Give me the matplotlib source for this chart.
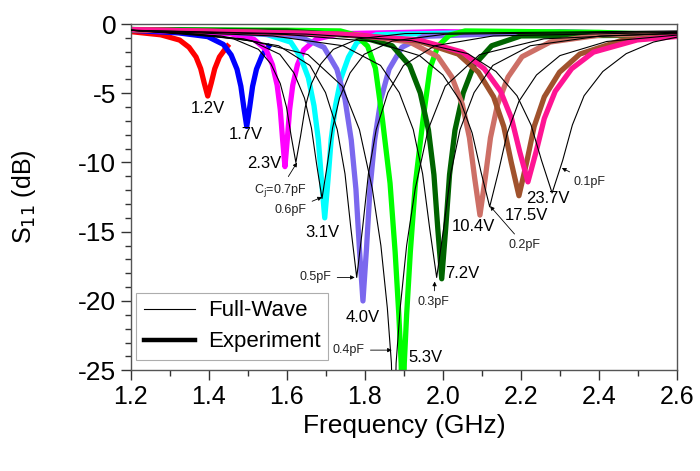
import matplotlib.pyplot as plt
from matplotlib.ticker import MultipleLocator
from matplotlib.lines import Line2D

plt.rcParams['font.family'] = ['Liberation Sans', 'DejaVu Sans']
plt.rcParams['axes.unicode_minus'] = False

# ---- Experiment (thick) : frequency in GHz, S11 in dB ----
f_1v2 = [1.2, 1.277, 1.325, 1.349, 1.367, 1.379, 1.388, 1.397, 1.406, 1.415, 1.427, 1.445, 1.452]
s_1v2 = [-0.55, -0.78, -1.16, -1.68, -2.38, -3.23, -4.26, -5.2, -4.26, -3.23, -2.38, -1.68, -1.45]

f_1v7 = [1.2, 1.322, 1.397, 1.437, 1.457, 1.472, 1.482, 1.4895, 1.497, 1.5045, 1.512, 1.522, 1.537, 1.557]
s_1v7 = [-0.45, -0.64, -0.91, -1.47, -2.23, -3.26, -4.5, -6.02, -7.4, -6.02, -4.5, -3.26, -2.23, -1.47]

f_2v3 = [1.2, 1.455, 1.515, 1.547, 1.563, 1.575, 1.583, 1.589, 1.595, 1.601, 1.607, 1.615, 1.627, 1.643, 1.675, 1.735, 2.0, 2.6]
s_2v3 = [-0.4, -0.7, -1.09, -1.87, -2.95, -4.42, -6.18, -8.34, -10.3, -8.34, -6.18, -4.42, -2.95, -1.87, -1.09, -0.7, -0.55, -0.8]

f_3v1 = [1.2, 1.45, 1.55, 1.61, 1.635, 1.655, 1.6695, 1.6805, 1.6888, 1.697, 1.7053, 1.7135, 1.7245, 1.739, 1.758, 1.78, 1.83, 2.2, 2.6]
s_3v1 = [-0.4, -0.5, -0.77, -1.31, -2.39, -3.88, -5.9, -8.33, -11.3, -14.0, -11.3, -8.33, -5.9, -3.88, -2.39, -1.31, -0.77, -0.55, -0.8]

f_4v0 = [1.2, 1.4, 1.63, 1.695, 1.728, 1.749, 1.765, 1.777, 1.786, 1.795, 1.804, 1.813, 1.825, 1.841, 1.862, 1.895, 1.95, 2.3, 2.6]
s_4v0 = [-0.4, -0.5, -0.89, -1.68, -3.26, -5.43, -8.38, -11.93, -16.26, -20.0, -16.26, -11.93, -8.38, -5.43, -3.26, -1.68, -0.89, -0.55, -0.8]

f_5v3 = [1.2, 1.6, 1.737, 1.777, 1.807, 1.827, 1.845, 1.8645, 1.8775, 1.887, 1.893, 1.897, 1.901, 1.907, 1.9165, 1.9295, 1.949, 1.967, 1.987, 2.017, 2.057, 2.4, 2.6]
s_5v3 = [-0.4, -0.45, -0.5, -0.8, -1.6, -3.2, -6.9, -11.5, -16.45, -21.0, -24.5, -30.0, -24.5, -21.0, -16.45, -11.5, -6.9, -3.2, -1.6, -0.8, -0.5, -0.6, -0.8]

f_7v2 = [1.2, 1.6, 1.78, 1.87, 1.915, 1.942, 1.963, 1.977, 1.987, 1.997, 2.007, 2.017, 2.031, 2.052, 2.079, 2.125, 2.2, 2.6]
s_7v2 = [-0.4, -0.5, -0.86, -1.57, -3.01, -4.98, -7.66, -10.88, -14.82, -18.4, -14.82, -10.88, -7.66, -4.98, -3.01, -1.57, -0.86, -0.8]

f_10v4 = [1.2, 1.78, 1.915, 1.987, 2.023, 2.05, 2.068, 2.0815, 2.095, 2.1085, 2.122, 2.14, 2.167, 2.203, 2.275, 2.41, 2.6]
s_10v4 = [-0.4, -0.77, -1.3, -2.36, -3.83, -5.82, -8.21, -11.14, -13.8, -11.14, -8.21, -5.82, -3.83, -2.36, -1.3, -0.77, -0.8]

f_17v5 = [1.2, 1.74, 1.935, 2.039, 2.091, 2.13, 2.156, 2.1755, 2.195, 2.2145, 2.234, 2.26, 2.299, 2.351, 2.455, 2.6]
s_17v5 = [-0.4, -0.74, -1.21, -2.17, -3.48, -5.26, -7.4, -10.02, -12.4, -10.02, -7.4, -5.26, -3.48, -2.17, -1.21, -0.85]

f_23v7 = [1.2, 1.728, 1.938, 2.05, 2.106, 2.148, 2.176, 2.197, 2.218, 2.239, 2.26, 2.288, 2.33, 2.386, 2.498, 2.6]
s_23v7 = [-0.4, -0.72, -1.15, -2.03, -3.23, -4.86, -6.82, -9.22, -11.4, -9.22, -6.82, -4.86, -3.23, -2.03, -1.15, -0.9]

# ---- Full-Wave (thin black) ----
f_07pF = [1.2, 1.343, 1.463, 1.527, 1.559, 1.583, 1.599, 1.611, 1.623, 1.635, 1.647, 1.663, 1.687, 1.719, 1.783, 1.903, 2.6]
s_07pF = [-0.45, -0.69, -1.07, -1.83, -2.88, -4.3, -6.01, -8.1, -10.0, -8.1, -6.01, -4.3, -2.88, -1.83, -1.07, -0.69, -0.5]

f_06pF = [1.2, 1.375, 1.51, 1.582, 1.618, 1.645, 1.663, 1.6765, 1.69, 1.7035, 1.717, 1.735, 1.762, 1.798, 1.87, 2.005, 2.6]
s_06pF = [-0.45, -0.74, -1.23, -2.19, -3.53, -5.34, -7.52, -10.18, -12.6, -10.18, -7.52, -5.34, -3.53, -2.19, -1.23, -0.74, -0.55]

f_05pF = [1.2, 1.429, 1.579, 1.659, 1.699, 1.729, 1.749, 1.764, 1.779, 1.794, 1.809, 1.829, 1.859, 1.899, 1.979, 2.129, 2.6]
s_05pF = [-0.45, -0.86, -1.57, -2.99, -4.95, -7.62, -10.82, -14.74, -18.3, -14.74, -10.82, -7.62, -4.95, -2.99, -1.57, -0.86, -0.6]

f_04pF = [1.2, 1.489, 1.654, 1.742, 1.786, 1.819, 1.841, 1.8575, 1.868, 1.874, 1.880, 1.8905, 1.907, 1.929, 1.962, 2.006, 2.094, 2.259, 2.6]
s_04pF = [-0.45, -1.07, -2.21, -4.49, -7.63, -11.9, -16.0, -20.5, -24.5, -32.0, -24.5, -20.5, -16.0, -11.9, -7.63, -4.49, -2.21, -1.07, -0.65]

f_03pF = [1.2, 1.564, 1.744, 1.84, 1.888, 1.924, 1.948, 1.966, 1.984, 2.002, 2.02, 2.044, 2.08, 2.128, 2.224, 2.404, 2.6]
s_03pF = [-0.45, -0.86, -1.57, -2.99, -4.95, -7.62, -10.82, -14.74, -18.3, -14.74, -10.82, -7.62, -4.95, -2.99, -1.57, -0.86, -0.7]

f_02pF = [1.2, 1.595, 1.82, 1.94, 2.0, 2.045, 2.075, 2.0975, 2.12, 2.1425, 2.165, 2.195, 2.24, 2.3, 2.42, 2.6]
s_02pF = [-0.45, -0.75, -1.26, -2.28, -3.68, -5.58, -7.87, -10.66, -13.2, -10.66, -7.87, -5.58, -3.68, -2.28, -1.26, -0.8]

f_01pF = [1.2, 1.65, 1.92, 2.064, 2.136, 2.19, 2.226, 2.253, 2.28, 2.307, 2.332, 2.362, 2.41, 2.47, 2.54, 2.6]
s_01pF = [-0.45, -0.73, -1.2, -2.14, -3.43, -5.18, -7.29, -9.86, -12.2, -9.86, -7.29, -5.18, -3.43, -2.14, -1.3, -0.95]

experiment = [
    (f_1v2, s_1v2, '#FF0000'),
    (f_1v7, s_1v7, '#0000FF'),
    (f_2v3, s_2v3, '#FF00FF'),
    (f_3v1, s_3v1, '#00FFFF'),
    (f_4v0, s_4v0, '#7B68EE'),
    (f_5v3, s_5v3, '#00FF00'),
    (f_7v2, s_7v2, '#006400'),
    (f_10v4, s_10v4, '#CD6F66'),
    (f_17v5, s_17v5, '#A0522D'),
    (f_23v7, s_23v7, '#FF1493'),
]
fullwave = [(f_07pF, s_07pF), (f_06pF, s_06pF), (f_05pF, s_05pF), (f_04pF, s_04pF),
            (f_03pF, s_03pF), (f_02pF, s_02pF), (f_01pF, s_01pF)]

# voltage labels (text, x, y)
v_labels = [('1.2V', 1.397, -6.1), ('1.7V', 1.495, -8.0), ('2.3V', 1.541, -10.05),
            ('3.1V', 1.692, -15.05), ('4.0V', 1.795, -21.2), ('5.3V', 1.956, -24.05),
            ('7.2V', 2.049, -18.0), ('10.4V', 2.079, -14.65), ('17.5V', 2.215, -13.85),
            ('23.7V', 2.27, -12.6)]
# capacitance labels (text, text x, text y, arrow x, arrow y)
c_labels = [(r'C$_\mathrm{j}$=0.7pF', 1.582, -12.0, 1.626, -10.0),
            ('0.6pF', 1.61, -13.45, 1.69, -12.5),
            ('0.5pF', 1.674, -18.3, 1.774, -18.3),
            ('0.4pF', 1.759, -23.55, 1.869, -23.55),
            ('0.3pF', 1.977, -20.1, 1.979, -18.6),
            ('0.2pF', 2.208, -15.95, 2.121, -13.15),
            ('0.1pF', 2.377, -11.4, 2.305, -10.4)]

fig = plt.figure(figsize=(7, 4.71), dpi=100)
ax = fig.add_axes([0.187, 0.214, 0.78, 0.735])

for f, s, c in experiment:
    ax.plot(f, s, color=c, lw=3.8, solid_joinstyle='round', solid_capstyle='butt', zorder=2)
for f, s in fullwave:
    ax.plot(f, s, color='k', lw=0.8, zorder=3)

for t, x, y in v_labels:
    ax.text(x, y, t, fontsize=12, ha='center', va='center', zorder=5)
for t, x, y, xa, ya in c_labels:
    ax.annotate(t, xy=(xa, ya), xytext=(x, y), fontsize=9, ha='center', va='center',
                color='#222222', zorder=5,
                arrowprops=dict(arrowstyle='-|>', lw=0.6, color='k', mutation_scale=6,
                                shrinkA=2, shrinkB=0))

ax.set_xlim(1.2, 2.6)
ax.set_ylim(-25, 0)
ax.xaxis.set_major_locator(MultipleLocator(0.2))
ax.xaxis.set_minor_locator(MultipleLocator(0.1))
ax.yaxis.set_major_locator(MultipleLocator(5))
ax.yaxis.set_minor_locator(MultipleLocator(1))
ax.xaxis.set_major_formatter(plt.FuncFormatter(lambda v, p: f'{v:.1f}'))
ax.tick_params(which='major', direction='out', length=7, width=1, labelsize=18, colors='#333333',
               labelcolor='black')
ax.tick_params(which='minor', direction='out', length=4, width=1, colors='#333333')
ax.tick_params(axis='y', labelsize=19)
for sp in ax.spines.values():
    sp.set_color('#555555')
    sp.set_linewidth(1)

ax.set_xlabel('Frequency (GHz)', fontsize=19)
ax.set_ylabel(r'S$_{11}$ (dB)', fontsize=18)
ax.yaxis.set_label_coords(-0.17, 0.5)

handles = [Line2D([], [], color='k', lw=0.8), Line2D([], [], color='k', lw=3.2)]
leg = ax.legend(handles, ['Full-Wave', 'Experiment'], loc='lower left',
                bbox_to_anchor=(0.009, 0.029), borderaxespad=0, fontsize=16, frameon=True,
                fancybox=False, edgecolor='#999999', handlelength=2.3, handletextpad=0.6,
                borderpad=0.35, labelspacing=0.45)
leg.get_frame().set_linewidth(0.8)

fig.savefig('out.png', dpi=100)
